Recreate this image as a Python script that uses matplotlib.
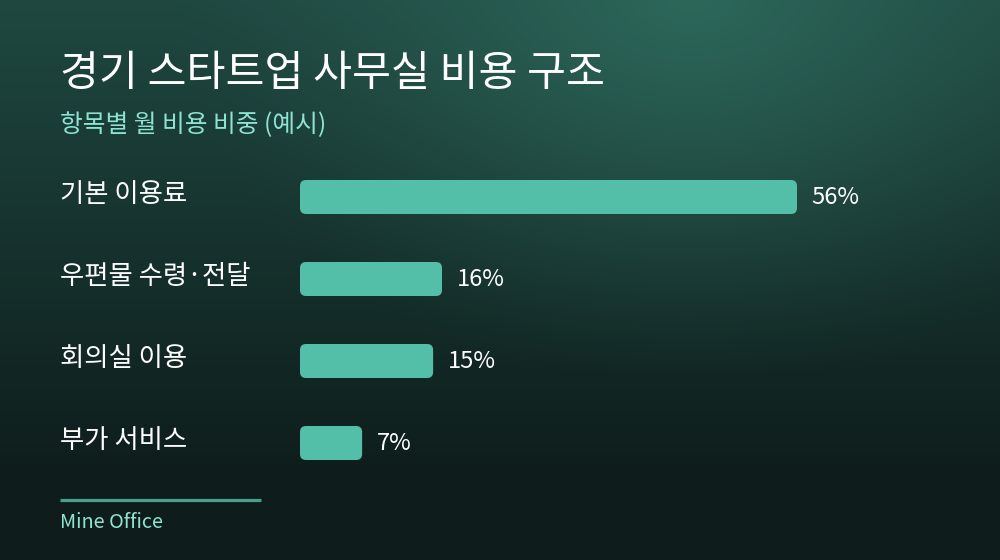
import numpy as np
import matplotlib
matplotlib.use("Agg")
import matplotlib.pyplot as plt
from matplotlib.patches import FancyBboxPatch
from matplotlib.transforms import blended_transform_factory

plt.rcParams['font.family'] = ['Noto Sans CJK KR', 'DejaVu Sans']

title = "경기 스타트업 사무실 비용 구조"
subtitle = "항목별 월 비용 비중 (예시)"
categories = ["기본 이용료", "우편물 수령·전달", "회의실 이용", "부가 서비스"]
values = [56, 16, 15, 7]
value_labels = ["56%", "16%", "15%", "7%"]
source = "Mine Office"

W, H, DPI = 1000, 560, 100
fig = plt.figure(figsize=(W / DPI, H / DPI), dpi=DPI)

# background: vertical linear gradient + radial glow near top
bg = fig.add_axes([0, 0, 1, 1])
yy, xx = np.mgrid[0:H, 0:W]
top = np.array([0x1f, 0x48, 0x41]) / 255.0
bot = np.array([0x0e, 0x1d, 0x1c]) / 255.0
tv = np.clip(yy / (H * 0.85), 0, 1)[..., None]
base = top * (1 - tv) + bot * tv
glow_c = np.array([0x2d, 0x68, 0x5b]) / 255.0
d = np.sqrt(((xx - 690) / 1.0) ** 2 + ((yy + 10) * 1.3) ** 2) / 520.0
g = np.clip(1 - d, 0, 1) ** 1.3
img = base * (1 - g[..., None]) + glow_c * g[..., None]
bg.imshow(img, extent=[0, W, H, 0], aspect='auto', interpolation='bilinear')
bg.set_xlim(0, W)
bg.set_ylim(H, 0)
bg.axis('off')

# titles
fig.text(60 / W, 1 - 74 / H, title, color='white', fontsize=30.5, va='center', ha='left')
fig.text(60 / W, 1 - 125 / H, subtitle, color='#8fe3d2', fontsize=17.8, va='center', ha='left')

# bars axes
left_px, right_px = 300, 797
top_px, slot = 156, 82
n = len(categories)
ax = fig.add_axes([left_px / W, 1 - (top_px + slot * n) / H, (right_px - left_px) / W, slot * n / H])
ax.set_xlim(0, max(values))
ax.set_ylim(n - 0.5, -0.5)
ax.axis('off')
ax.patch.set_alpha(0)

bar_h = 34 / slot
rx = 6 * max(values) / (right_px - left_px)
aspect = (1 / slot) / (max(values) / (right_px - left_px))
for i, v in enumerate(values):
    p = FancyBboxPatch((0, i - bar_h / 2), v, bar_h,
                       boxstyle=f"round,pad=0,rounding_size={rx}",
                       mutation_aspect=aspect, facecolor='#54bfa8', edgecolor='none')
    ax.add_patch(p)
    ax.annotate(value_labels[i], (v, i), xytext=(10.5, 0), textcoords='offset points',
                va='center', ha='left', color='white', fontsize=17)

tr = blended_transform_factory(fig.transFigure, ax.transData)
for i, c in enumerate(categories):
    ax.text(60 / W, i - 0.03, c, transform=tr, va='center', ha='left', color='white',
            fontsize=19, clip_on=False)

# footer
bg.plot([60, 261], [499.5, 499.5], color='#4a9e8c', lw=2.3, solid_capstyle='butt')
bg.text(60, 522, source, color='#8fe3d2', fontsize=14.3, va='center', ha='left')

fig.savefig('out.png', dpi=DPI)
